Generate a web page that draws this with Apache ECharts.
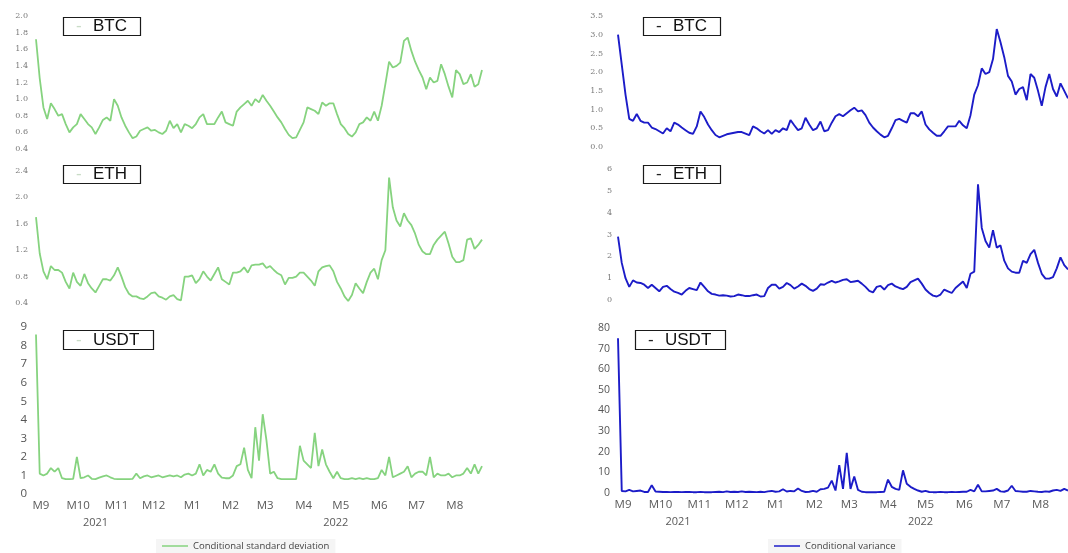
<!DOCTYPE html>
<html>
<head>
<meta charset="utf-8">
<script src="https://cdn.jsdelivr.net/npm/echarts@6/dist/echarts.min.js"></script>
<style>html,body{margin:0;padding:0;background:#fff;}#c{width:1068px;height:553px;}</style>
</head>
<body>
<div id="c"></div>
<script>
// ---- x scale: daily series, sampled every 3 days ----
const startDate = [2021, 7, 28];   // 2021-08-28 (month 0-based)
const totalDays = 361;             // through 2022-08-23
const stepDays = 3;
const yearLabels = { '2021-10-15': '2021', '2022-04-27': '2022' };

// ---- series values (one per 3 days) ----
const btcSd = [1.72,1.25,0.9,0.76,0.95,0.88,0.8,0.82,0.7,0.6,0.66,0.7,0.82,0.76,0.7,0.66,0.58,0.66,0.75,0.78,
0.74,1.0,0.92,0.78,0.68,0.6,0.53,0.55,0.62,0.64,0.66,0.62,0.63,0.6,0.58,0.62,0.74,0.65,0.7,0.6,
0.7,0.68,0.65,0.7,0.78,0.82,0.7,0.7,0.7,0.78,0.85,0.72,0.7,0.68,0.85,0.9,0.94,0.98,0.92,1.0,
0.96,1.05,0.98,0.92,0.85,0.78,0.72,0.64,0.57,0.53,0.54,0.63,0.72,0.9,0.88,0.86,0.82,0.96,0.92,0.95,
0.95,0.82,0.7,0.65,0.58,0.55,0.6,0.7,0.72,0.78,0.74,0.85,0.74,0.92,1.18,1.45,1.38,1.4,1.44,1.7,
1.74,1.58,1.45,1.35,1.26,1.12,1.26,1.2,1.22,1.42,1.3,1.15,1.02,1.35,1.3,1.18,1.2,1.3,1.15,1.18,1.35];
const ethSd = [1.7,1.15,0.88,0.76,0.96,0.9,0.9,0.86,0.72,0.62,0.86,0.72,0.66,0.84,0.7,0.62,0.56,0.66,0.76,0.76,
0.74,0.82,0.94,0.8,0.64,0.54,0.5,0.5,0.47,0.46,0.5,0.55,0.56,0.5,0.48,0.45,0.5,0.52,0.46,0.44,
0.8,0.8,0.82,0.7,0.76,0.88,0.8,0.74,0.84,0.94,0.76,0.72,0.68,0.86,0.86,0.88,0.94,0.86,0.97,0.98,
0.98,1.0,0.93,0.96,0.9,0.85,0.82,0.68,0.78,0.78,0.8,0.86,0.86,0.8,0.74,0.66,0.88,0.94,0.96,0.97,
0.88,0.72,0.62,0.5,0.43,0.52,0.7,0.62,0.55,0.72,0.86,0.92,0.76,1.05,1.2,2.3,1.85,1.65,1.56,1.76,
1.65,1.58,1.45,1.28,1.18,1.14,1.14,1.28,1.36,1.42,1.48,1.3,1.1,1.02,1.02,1.05,1.36,1.38,1.22,1.28,1.36];
const usdtSd = [8.6,1.1,1.0,1.1,1.4,1.2,1.4,0.85,0.8,0.8,0.82,2.0,0.85,0.9,1.0,0.82,0.8,0.88,0.95,1.0,
0.9,0.82,0.8,0.8,0.8,0.8,0.82,1.1,0.85,0.95,1.0,0.9,0.95,1.0,0.9,0.95,1.0,0.95,1.0,0.9,
1.05,1.1,1.0,1.1,1.6,1.0,1.3,1.2,1.6,1.1,0.88,0.85,0.85,1.0,1.5,1.6,2.5,1.3,0.85,3.6,
1.8,4.3,2.9,1.1,1.2,0.85,0.8,0.8,0.8,0.8,0.8,2.6,1.8,1.6,1.4,3.3,1.5,2.4,1.6,1.2,
0.85,1.2,0.85,0.8,0.8,0.85,0.8,0.85,0.8,0.85,0.8,0.8,0.85,1.3,1.0,2.0,0.9,1.0,1.1,1.2,
1.5,0.9,1.1,1.2,1.2,1.0,2.0,0.9,1.1,1.0,1.0,1.1,0.9,1.0,1.0,1.1,1.4,1.1,1.6,1.1,1.5];
const btcVar = [3.0,2.2,1.4,0.75,0.7,0.88,0.7,0.65,0.65,0.52,0.48,0.42,0.36,0.5,0.42,0.65,0.6,0.52,0.45,0.38,
0.35,0.55,0.95,0.8,0.6,0.45,0.32,0.26,0.3,0.34,0.36,0.38,0.4,0.4,0.36,0.32,0.55,0.5,0.42,0.36,
0.45,0.35,0.45,0.4,0.5,0.45,0.72,0.58,0.45,0.5,0.78,0.6,0.45,0.5,0.68,0.42,0.45,0.65,0.82,0.88,
0.82,0.9,0.98,1.05,0.95,0.98,0.85,0.65,0.52,0.42,0.33,0.26,0.3,0.5,0.72,0.75,0.7,0.65,0.9,0.9,
0.82,0.95,0.6,0.47,0.38,0.3,0.3,0.42,0.55,0.55,0.55,0.7,0.58,0.5,0.85,1.4,1.65,2.1,1.95,2.0,
2.35,3.15,2.8,2.4,1.9,1.75,1.4,1.55,1.6,1.25,1.95,1.85,1.5,1.1,1.6,1.95,1.55,1.35,1.7,1.5,1.3];
const ethVar = [2.9,1.7,1.0,0.6,0.9,0.8,0.78,0.7,0.55,0.7,0.55,0.4,0.6,0.65,0.5,0.38,0.33,0.25,0.42,0.55,
0.5,0.45,0.8,0.6,0.4,0.28,0.25,0.2,0.22,0.2,0.16,0.18,0.25,0.22,0.18,0.18,0.22,0.25,0.16,0.18,
0.55,0.7,0.7,0.52,0.6,0.78,0.68,0.52,0.62,0.75,0.65,0.5,0.42,0.52,0.72,0.7,0.8,0.88,0.8,0.85,
0.92,0.95,0.82,0.85,0.88,0.75,0.6,0.42,0.35,0.6,0.65,0.48,0.68,0.75,0.62,0.55,0.5,0.6,0.82,0.9,
0.98,0.75,0.48,0.32,0.2,0.16,0.25,0.48,0.4,0.32,0.55,0.7,0.85,0.55,1.2,1.3,5.3,3.3,2.7,2.4,
3.2,2.4,2.5,1.8,1.45,1.3,1.25,1.25,1.8,1.7,2.1,2.3,1.7,1.2,0.98,0.98,1.05,1.45,1.95,1.6,1.4];
const usdtVar = [75,1.0,0.8,1.5,0.8,1.0,1.2,0.5,0.5,3.8,0.7,0.6,0.5,0.5,0.4,0.5,0.5,0.4,0.5,0.5,
0.4,0.4,0.5,0.4,0.4,0.4,0.5,0.6,0.4,0.8,0.5,0.6,0.5,0.8,0.5,0.6,0.5,0.4,0.6,0.4,
0.8,1.0,0.6,0.8,1.8,0.7,1.0,0.8,2.2,1.0,0.5,0.6,1.0,0.6,1.8,2.0,2.6,6.0,1.2,13.5,
2.0,19.5,2.0,8.0,1.5,0.6,0.4,0.4,0.4,0.4,0.5,0.6,6.5,3.0,2.0,1.5,11.0,4.5,3.0,2.0,
1.2,0.6,1.0,0.5,0.4,0.4,0.5,0.4,0.4,0.5,0.4,0.5,0.6,0.6,1.5,0.8,4.0,0.8,0.8,1.0,
1.2,2.0,0.8,0.6,1.2,3.5,1.0,0.8,0.6,0.6,1.0,0.8,0.6,0.5,0.8,0.6,1.2,1.5,1.0,2.0,1.2];

// ---- y axis ranges [min, max, step] ----
const rangeBtcSd = [0.4, 2.0, 0.2];
const rangeEthSd = [0.4, 2.4, 0.4];
const rangeUsdtSd = [0, 9, 1];
const rangeBtcVar = [0, 3.5, 0.5];
const rangeEthVar = [0, 6, 1];
const rangeUsdtVar = [0, 80, 10];

const panelNames = ['BTC', 'ETH', 'USDT'];
const sdName = 'Conditional standard deviation';
const varName = 'Conditional variance';

// daily category list
const days = [];
(function () {
  const t0 = Date.UTC(startDate[0], startDate[1], startDate[2]);
  for (let i = 0; i < totalDays; i++) days.push(new Date(t0 + i * 86400000).toISOString().slice(0, 10));
})();

const green = '#86d37f';
const blue = '#1c1cc8';

const grids = [
  { left: 36, width: 446, top: 16, height: 133 },
  { left: 36, width: 446, top: 171, height: 132 },
  { left: 36, width: 446, top: 327, height: 167 },
  { left: 618, width: 450, top: 16, height: 131 },
  { left: 618, width: 450, top: 169, height: 131 },
  { left: 618, width: 450, top: 328, height: 165 }
];

const ranges = [rangeBtcSd, rangeEthSd, rangeUsdtSd, rangeBtcVar, rangeEthVar, rangeUsdtVar];
const values = [btcSd, ethSd, usdtSd, btcVar, ethVar, usdtVar];
const decimals = [1, 1, 0, 1, 0, 0];
const labelMargin = [8, 8, 9, 15, 6, 8];
const labelSize = [8, 8, 11.5, 8, 8, 10.5];
const labelColor = ['#7a7a7a', '#7a7a7a', '#555', '#7a7a7a', '#7a7a7a', '#555'];
const labelFont = ['DejaVu Serif', 'DejaVu Serif', 'Open Sans', 'DejaVu Serif', 'DejaVu Serif', 'Open Sans'];

const xAxes = [];
const yAxes = [];
const series = [];
for (let i = 0; i < 6; i++) {
  const bottom = (i === 2 || i === 5);
  xAxes.push({
    type: 'category', gridIndex: i, data: days, boundaryGap: false,
    axisLine: { show: false }, axisTick: { show: false }, splitLine: { show: false },
    axisLabel: bottom ? {
      show: true, margin: 6, fontSize: 11.5, color: '#5a5a5a', fontFamily: 'Open Sans',
      interval: (idx, v) => v.slice(8) === '01',
      formatter: v => 'M' + Number(v.slice(5, 7))
    } : { show: false }
  });
  const r = ranges[i];
  yAxes.push({
    type: 'value', gridIndex: i, min: r[0], max: r[1], interval: r[2],
    axisLine: { show: false }, axisTick: { show: false }, splitLine: { show: false },
    axisLabel: {
      margin: labelMargin[i], fontSize: labelSize[i], color: labelColor[i], fontFamily: labelFont[i],
      formatter: v => Number(v).toFixed(decimals[i])
    }
  });
  series.push({
    type: 'line', name: i < 3 ? sdName : varName,
    xAxisIndex: i, yAxisIndex: i, symbol: 'none', animation: false,
    lineStyle: { width: i < 3 ? 1.8 : 1.9, color: i < 3 ? green : blue },
    itemStyle: { color: i < 3 ? green : blue },
    data: values[i].map((v, k) => [k * stepDays, v])
  });
}
// year labels under the month labels
[2, 5].forEach(g => {
  xAxes.push({
    type: 'category', gridIndex: g, data: days, boundaryGap: false, position: 'bottom', offset: 17,
    axisLine: { show: false }, axisTick: { show: false }, splitLine: { show: false },
    axisLabel: {
      show: true, margin: 6, fontSize: 11, color: '#5a5a5a', fontFamily: 'Open Sans',
      interval: (idx, v) => yearLabels[v] !== undefined,
      formatter: v => yearLabels[v] || ''
    }
  });
});

const boxTops = [15, 163, 327];
const boxLefts = [63, 643];
const titles = [];
for (let c = 0; c < 2; c++) {
  for (let p = 0; p < 3; p++) {
    const lh = p === 2 ? 24 : 21;
    titles.push({
      text: '{d|-}{t|' + panelNames[p] + '}',
      left: boxLefts[c] - (c === 1 && p === 2 ? 8 : 0), top: boxTops[p],
      borderColor: '#1a1a1a', borderWidth: 1.2, backgroundColor: '#fff',
      padding: [1, 14, 1, 13],
      textStyle: {
        fontWeight: 'normal',
        rich: {
          d: { fontSize: 17, width: 17, lineHeight: lh, fontWeight: 'normal', color: c === 0 ? '#c9dcc7' : '#222', fontFamily: 'Liberation Sans' },
          t: { fontSize: 17, lineHeight: lh, fontWeight: 'normal', color: '#111', fontFamily: 'Liberation Sans' }
        }
      }
    });
  }
}

const option = {
  backgroundColor: '#fff',
  animation: false,
  title: titles,
  grid: grids,
  xAxis: xAxes,
  yAxis: yAxes,
  legend: [
    { data: [sdName], left: 156, top: 539, icon: 'rect', itemWidth: 26, itemHeight: 1.5, itemGap: 6,
      backgroundColor: '#f5f5f5', padding: [2, 6, 3, 6],
      textStyle: { fontSize: 9.5, color: '#444', fontFamily: 'Open Sans' } },
    { data: [varName], left: 768, top: 539, icon: 'rect', itemWidth: 26, itemHeight: 1.5, itemGap: 6,
      backgroundColor: '#f5f5f5', padding: [2, 6, 3, 6],
      textStyle: { fontSize: 9.5, color: '#444', fontFamily: 'Open Sans' } }
  ],
  series: series
};

const chart = echarts.init(document.getElementById('c'), null, { renderer: 'canvas' });
chart.setOption(option);
</script>
</body>
</html>
